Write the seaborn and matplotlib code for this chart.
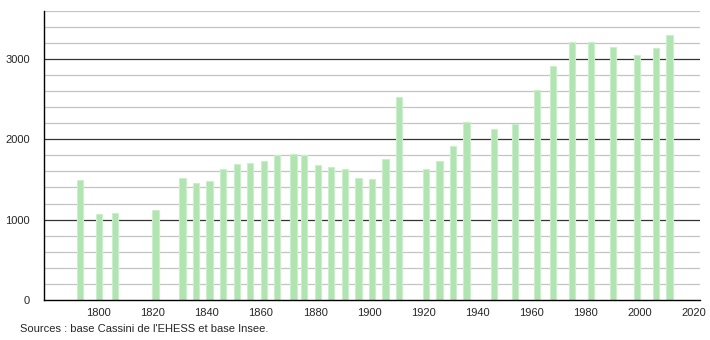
import matplotlib
matplotlib.use("Agg")
import matplotlib.pyplot as plt
import seaborn as sns
import pandas as pd
from matplotlib.ticker import MultipleLocator

years = [1793, 1800, 1806, 1821, 1831, 1836, 1841, 1846, 1851, 1856, 1861, 1866,
         1872, 1876, 1881, 1886, 1891, 1896, 1901, 1906, 1911, 1921, 1926, 1931,
         1936, 1946, 1954, 1962, 1968, 1975, 1982, 1990, 1999, 2006, 2011]
population = [1495, 1071, 1083, 1121, 1515, 1457, 1482, 1631, 1692, 1702, 1727, 1802,
              1818, 1802, 1681, 1656, 1631, 1519, 1507, 1756, 2528, 1631, 1731, 1922,
              2217, 2130, 2196, 2611, 2914, 3213, 3213, 3148, 3051, 3138, 3300]
x_ticks = list(range(1800, 2021, 20))
y_ticks = [0, 1000, 2000, 3000]
source_text = "Sources : base Cassini de l'EHESS et base Insee."

df = pd.DataFrame({"year": years, "pop": population})

sns.set_style("white")
plt.rcParams['font.family'] = ['Liberation Sans', 'DejaVu Sans']

fig = plt.figure(figsize=(7.1, 3.4), dpi=100)
ax = fig.add_axes([0.062, 0.1176, 0.924, 0.851])

# grid lines
for v in range(200, 3601, 200):
    if v % 1000 == 0:
        ax.axhline(v, color="#333333", lw=0.9, zorder=0)
    else:
        ax.axhline(v, color="#c4c4c4", lw=0.9, zorder=0)

sns.barplot(data=df, x="year", y="pop", native_scale=True, width=0.58,
            color="#b0e4b0", edgecolor="#cdeecd", linewidth=0.8,
            saturation=1, ax=ax, zorder=2)

ax.set_xlim(1779.8, 2022.3)
ax.set_ylim(0, 3600)
ax.set_xticks(x_ticks)
ax.set_xticklabels([str(t) for t in x_ticks], fontsize=8)
ax.set_yticks(y_ticks)
ax.set_yticklabels([str(t) for t in y_ticks], fontsize=8)
ax.yaxis.set_minor_locator(MultipleLocator(200))
ax.tick_params(axis="x", length=0, pad=6)
ax.tick_params(axis="y", which="both", length=3, width=0.8, color="#333333", pad=7, direction="out")
ax.set_xlabel("")
ax.set_ylabel("")
for s in ["top", "right"]:
    ax.spines[s].set_visible(False)
for s in ["left", "bottom"]:
    ax.spines[s].set_color("black")
    ax.spines[s].set_linewidth(1.0)
    ax.spines[s].set_zorder(3)

fig.text(20 / 710, 1 - 329 / 340, source_text, fontsize=8, va="center", ha="left")

fig.savefig("out.png", dpi=100)
